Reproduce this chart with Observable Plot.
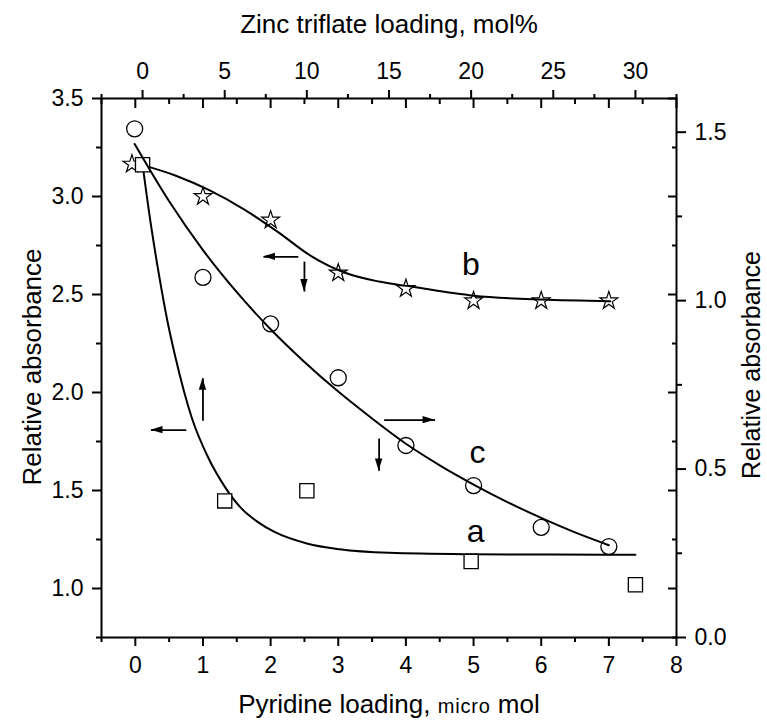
<!DOCTYPE html>
<html><head><meta charset="utf-8">
<script src="https://cdn.jsdelivr.net/npm/d3@7"></script>
<script src="https://cdn.jsdelivr.net/npm/@observablehq/plot@0.6"></script>
<style>
body{margin:0;background:#fff;}
#chart{position:relative;width:767px;height:721px;}
#chart svg{position:absolute;left:0;top:0;}
</style></head><body><div id="chart"></div>
<script>
// ---- data ----
// curve b: stars, pyridine loading (bottom axis) vs relative absorbance (left axis)
const starPyridine = [-0.05, 1, 2, 3, 4, 5, 6, 7];
const starAbs      = [3.165, 3.0, 2.88, 2.61, 2.53, 2.468, 2.468, 2.468];
const fitBPyridine = [0.11, 0.6, 1.1, 1.6, 2.1, 2.6, 3.1, 3.6, 4.1, 5.0, 6.0, 7.02];
const fitBAbs      = [3.16, 3.106, 3.031, 2.936, 2.821, 2.696, 2.611, 2.566, 2.539, 2.494, 2.474, 2.466];
// curve c: circles, pyridine loading (bottom) vs relative absorbance (right axis)
const circlePyridine = [-0.01, 1, 2, 3, 4, 5, 6, 7];
const circleAbs      = [1.510, 1.069, 0.931, 0.771, 0.570, 0.451, 0.327, 0.270];
const fitCPyridine = [-0.01, 0.5, 1, 1.5, 2, 2.5, 3, 3.5, 4, 4.5, 5, 5.5, 6, 6.5, 7];
const fitCAbs      = [1.465, 1.295, 1.150, 1.025, 0.915, 0.818, 0.730, 0.650, 0.575, 0.511, 0.454, 0.402, 0.355, 0.312, 0.274];
// curve a: squares, zinc triflate loading (top axis) vs relative absorbance (left axis)
const squareZinc = [0, 5, 10, 20, 30];
const squareAbs  = [3.162, 1.447, 1.499, 1.138, 1.019];
const fitAZinc = [0, 0.5, 1, 1.5, 2, 3, 4, 5, 6, 7, 8, 10, 12, 15, 20, 25, 30];
const fitAAbs  = [3.162, 2.86, 2.60, 2.37, 2.18, 1.87, 1.667, 1.52, 1.41, 1.34, 1.29, 1.23, 1.20, 1.182, 1.175, 1.173, 1.172];
// arrows (pyridine x, left-axis y)
const arrowX1 = [2.41, 2.50, 0.753, 1.0, 3.678, 3.604];
const arrowY1 = [2.692, 2.668, 1.808, 1.856, 1.859, 1.765];
const arrowX2 = [1.895, 2.50, 0.232, 1.0, 4.431, 3.604];
const arrowY2 = [2.692, 2.515, 1.808, 2.073, 1.859, 1.600];
// curve labels
const labelText = ["b", "c", "a"];
const labelX = [4.96, 5.06, 5.03];
const labelY = [2.65, 1.695, 1.29];
// axes
const pyrMajor = [0, 1, 2, 3, 4, 5, 6, 7, 8];
const pyrMinor = [-0.5, 0.5, 1.5, 2.5, 3.5, 4.5, 5.5, 6.5, 7.5];
const leftMajor = [1.0, 1.5, 2.0, 2.5, 3.0, 3.5];
const leftMinor = [0.75, 1.25, 1.75, 2.25, 2.75, 3.25];
const zincMajor = [0, 5, 10, 15, 20, 25, 30];
const zincMinor = [-2.5, 2.5, 7.5, 12.5, 17.5, 22.5, 27.5, 32.5];
const rightMajor = [0.0, 0.5, 1.0, 1.5];
const rightMinor = [0.25, 0.75, 1.25];
const pyrDomain = [-0.5, 8], leftDomain = [0.75, 3.5], zincDomain = [-2.5, 32.5], rightDomain = [0, 1.6];
const xTitle = ["Pyridine loading, ", "micro", " mol"];
const topTitle = "Zinc triflate loading, mol%";
const yTitle = "Relative absorbance";

// ---- build ----
const FONT = "'Liberation Sans', Arial, sans-serif";
const TICK_FS = 23;
const base = {
  width: 767, height: 721,
  marginTop: 98, marginRight: 91, marginBottom: 84, marginLeft: 101,
  style: {fontFamily: FONT, background: "transparent", color: "#000", overflow: "visible"}
};
const blank = () => "";
const zip = (xs, ys) => xs.map((x, i) => ({x, y: ys[i]}));

const stars = zip(starPyridine, starAbs);
const fitB = zip(fitBPyridine, fitBAbs);
const circles = zip(circlePyridine, circleAbs);
const fitC = zip(fitCPyridine, fitCAbs);
const squares = zip(squareZinc, squareAbs);
const fitA = zip(fitAZinc, fitAAbs);
const arrows = arrowX1.map((x1, i) => ({x1, y1: arrowY1[i], x2: arrowX2[i], y2: arrowY2[i]}));
const labels = labelText.map((t, i) => ({t, x: labelX[i], y: labelY[i]}));

// Layer 1: pyridine (bottom) x left absorbance
const p1 = Plot.plot({
  ...base,
  x: {domain: pyrDomain},
  y: {domain: leftDomain},
  marks: [
    Plot.frame({stroke: "black", strokeWidth: 2}),
    Plot.axisX(pyrMajor, {anchor: "bottom", tickSize: 9, tickPadding: 10, strokeWidth: 2, tickFormat: "d", fontSize: TICK_FS, label: null}),
    Plot.axisX(pyrMinor, {anchor: "bottom", tickSize: 5, strokeWidth: 2, tickFormat: blank, label: null}),
    Plot.axisX(pyrMajor, {anchor: "top", tickSize: -9, strokeWidth: 2, tickFormat: blank, label: null}),
    Plot.axisX(pyrMinor, {anchor: "top", tickSize: -5, strokeWidth: 2, tickFormat: blank, label: null}),
    Plot.axisY(leftMajor, {anchor: "left", tickSize: 9, tickPadding: 9, strokeWidth: 2, tickFormat: d3.format(".1f"), fontSize: TICK_FS, label: null}),
    Plot.axisY(leftMinor, {anchor: "left", tickSize: 5, strokeWidth: 2, tickFormat: blank, label: null}),
    Plot.axisY(leftMajor, {anchor: "right", tickSize: -9, strokeWidth: 2, tickFormat: blank, label: null}),
    Plot.axisY(leftMinor, {anchor: "right", tickSize: -5, strokeWidth: 2, tickFormat: blank, label: null}),
    Plot.line(fitB, {x: "x", y: "y", stroke: "black", strokeWidth: 2, curve: "monotone-x"}),
    Plot.dot(stars, {x: "x", y: "y", symbol: "star", r: 5.6, stroke: "black", strokeWidth: 1.2, fill: "none"}),
    Plot.link(arrows, {x1: "x1", y1: "y1", x2: "x2", y2: "y2", stroke: "black", strokeWidth: 1.8}),
    Plot.text(labels, {x: "x", y: "y", text: "t", fontSize: 32, lineAnchor: "middle", fill: "black"})
  ]
});

// filled arrowheads, placed through the plot's own scales
{
  const sx = p1.scale("x"), sy = p1.scale("y");
  const g = d3.select(p1).append("g").attr("fill", "black");
  for (const a of arrows) {
    const x1 = sx.apply(a.x1), y1 = sy.apply(a.y1), x2 = sx.apply(a.x2), y2 = sy.apply(a.y2);
    const len = Math.hypot(x2 - x1, y2 - y1), ux = (x2 - x1) / len, uy = (y2 - y1) / len;
    const L = 12, w = 3.7;
    const bx = x2 - ux * L, by = y2 - uy * L;
    g.append("path").attr("d", `M${x2},${y2}L${bx - uy * w},${by + ux * w}L${bx + uy * w},${by - ux * w}Z`);
  }
}

// Layer 2: zinc triflate (top) x left absorbance
const p2 = Plot.plot({
  ...base,
  x: {domain: zincDomain},
  y: {domain: leftDomain, axis: null},
  marks: [
    Plot.axisX(zincMajor, {anchor: "top", tickSize: 9, tickPadding: 11, strokeWidth: 2, tickFormat: "d", fontSize: TICK_FS, label: null}),
    Plot.axisX(zincMinor, {anchor: "top", tickSize: 5, strokeWidth: 2, tickFormat: blank, label: null}),
    Plot.line(fitA, {x: "x", y: "y", stroke: "black", strokeWidth: 2, curve: "monotone-x"}),
    Plot.dot(squares, {x: "x", y: "y", symbol: "square", r: 8, stroke: "black", strokeWidth: 1.3, fill: "white"})
  ]
});

// Layer 3: pyridine (bottom) x right absorbance
const p3 = Plot.plot({
  ...base,
  x: {domain: pyrDomain, axis: null},
  y: {domain: rightDomain},
  marks: [
    Plot.axisY(rightMajor, {anchor: "right", tickSize: 9, tickPadding: 9, strokeWidth: 2, tickFormat: d3.format(".1f"), fontSize: TICK_FS, label: null}),
    Plot.axisY(rightMinor, {anchor: "right", tickSize: 5, strokeWidth: 2, tickFormat: blank, label: null}),
    Plot.line(fitC, {x: "x", y: "y", stroke: "black", strokeWidth: 2, curve: "monotone-x"}),
    Plot.dot(circles, {x: "x", y: "y", r: 8, stroke: "black", strokeWidth: 1.3, fill: "none"})
  ]
});

const chart = document.getElementById("chart");
chart.append(p1, p2, p3);

// axis titles
const s = d3.select(p3);
const t1 = s.append("text").attr("x", 389).attr("y", 713).attr("text-anchor", "middle")
  .attr("font-family", FONT).attr("font-size", 26).attr("fill", "black");
t1.append("tspan").text(xTitle[0]);
t1.append("tspan").attr("font-size", 20).attr("letter-spacing", 0.8).text(xTitle[1]);
t1.append("tspan").text(xTitle[2]);
s.append("text").attr("x", 389).attr("y", 33).attr("text-anchor", "middle")
  .attr("font-family", FONT).attr("font-size", 26).attr("fill", "black").text(topTitle);
s.append("text").attr("transform", "translate(41,367) rotate(-90)").attr("text-anchor", "middle")
  .attr("font-family", FONT).attr("font-size", 26).attr("fill", "black").text(yTitle);
s.append("text").attr("transform", "translate(760,365) rotate(-90)").attr("text-anchor", "middle")
  .attr("font-family", FONT).attr("font-size", 25).attr("fill", "black").text(yTitle);
</script></body></html>
